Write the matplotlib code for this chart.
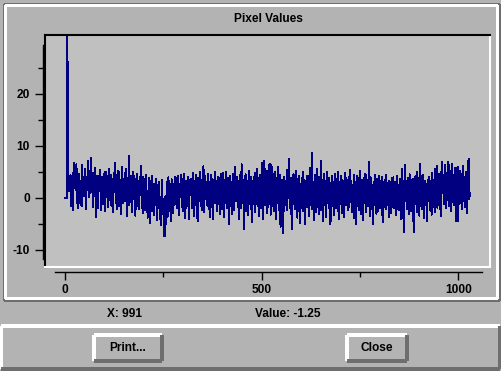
#
# p i x e l _ v a l u e s . p y
#

import numpy as np
import matplotlib
matplotlib.use("Agg")
from matplotlib import pyplot as plot
from matplotlib.lines import Line2D
from matplotlib.patches import Rectangle

# texts and ticks
title = "Pixel Values"
cursorX = "X: 991"
cursorValue = "Value: -1.25"
buttonNames = ["Print...", "Close"]
xMajor = [0, 500, 1000]
xMinor = [250, 750]
yMajor = [-10, 0, 10, 20]
yMinor = [-5, 5, 15, 25]

# pixel values (40 per row)
pixelValues = [
  0, 0, 0, 0, 0, 0, 40, 2.6, 3.1, 2.2, 1.4, 3.6, 2.5, 2.0, 4.4, 1.8, -1.5, 2.4, 3.0, 1.1,
  -2.3, 2.3, 6.7, 2.8, 1.9, 2.4, 5.1, 2.0, 1.5, 6.5, 2.9, 2.2, -2.0, 1.8, 2.6, 4.7, 2.1, -0.9, 2.5, 3.2,
  1.9, 2.7, -1.6, 2.3, 6.4, 2.0, 1.6, 2.9, 0.4, 2.5, 3.1, 5.6, 2.2, -2.1, 1.8, 2.6, 4.1, 2.0, 7.1, 1.5,
  2.4, 3.0, 0.2, 2.1, 5.3, 1.7, 7.8, 2.3, 2.8, 1.2, 4.8, 2.0, -1.8, 2.5, 1.9, 3.4, 0.3, 5.7, 1.6, -3.6,
  2.2, 1.7, 4.3, 2.5, -1.9, 1.8, 2.9, 1.4, 5.4, 2.0, 2.6, -2.4, 1.9, 2.3, 4.0, 1.5, -1.1, 2.4, 2.0, 4.6,
  1.6, -2.5, 2.2, 5.1, 1.8, 2.5, 0.2, 4.2, 1.9, 2.7, -1.7, 2.1, 5.5, 1.4, 2.3, 1.8, -1.4, 2.6, 4.4, 1.5,
  2.1, -2.8, 1.7, 2.4, 4.9, 1.3, 2.0, 6.7, 1.1, 1.8, -0.9, 4.5, 1.6, -2.2, 2.0, 1.4, 5.2, 1.7, -1.6, 2.2,
  1.5, 3.4, -3.0, 1.3, 1.9, 6.0, 1.2, 2.1, -1.0, 1.6, 3.7, 1.0, 4.8, -0.5, 1.8, 1.1, 5.6, 1.4, -3.5, 2.0,
  1.3, 3.9, -1.3, 8.0, 1.5, 1.0, -0.8, 4.3, 1.2, 1.7, -2.7, 1.4, 3.5, 0.9, 5.0, 1.5, -0.3, 1.1, 3.1, -3.4,
  1.3, 0.8, 4.6, 1.0, -1.5, 1.6, 3.3, 0.7, -2.2, 1.2, 4.0, 0.9, 1.4, 6.2, 0.6, 1.1, -1.9, 1.5, 4.1, -2.9,
  0.8, 0.3, 3.6, 0.6, -2.4, 0.9, 4.5, 0.2, -1.1, 0.7, -3.8, 1.0, 0.4, 3.9, 0.6, -1.7, 0.5, -4.9, 0.8, 3.2,
  0.1, 0.6, 4.2, -2.6, 0.4, 0.9, 2.8, -3.3, 0.3, 0.7, -1.4, 3.7, 0.2, 0.5, -4.2, 0.8, 2.5, -2.0, 0.3, 3.0,
  -0.3, -1.8, 0.2, -5.2, -0.6, -0.1, -3.1, 3.5, -0.7, -2.4, -0.2, -6.3, -0.5, -7.4, 0.3, -0.8, -1.5, -5.0, -0.4, 3.1,
  -0.6, -3.6, 0.1, 4.0, -0.3, -2.5, -0.7, 2.2, 0.0, -4.4, -0.5, 3.6, 0.2, -0.2, -2.9, 0.4, 2.7, -1.3, 0.3, 4.1,
  1.0, -1.2, 1.4, 3.8, 0.7, -2.0, 1.1, 4.3, 0.8, 1.5, -3.2, 1.2, 0.6, 2.8, 1.0, 4.4, 0.5, -1.8, 1.3, 0.9,
  3.6, -2.6, 1.1, 4.6, 0.7, 1.4, -3.9, 0.9, 3.3, 1.2, 0.5, -1.5, 4.0, 1.0, 0.8, -4.0, 1.3, 3.5, 0.6, 1.1,
  0.9, 3.7, 1.2, -1.9, 0.8, 1.4, 4.8, 0.6, -3.4, 1.1, 3.2, 0.9, 1.3, -1.3, 4.5, 0.7, 1.0, -4.5, 1.2, 3.9,
  0.8, -0.5, 1.4, 5.0, 0.6, -1.6, 1.1, 3.4, 0.9, -2.3, 1.2, 0.7, 6.1, 1.0, -2.8, 0.8, 4.2, 1.3, 0.5, 3.1,
  -1.4, 1.0, 0.6, 4.7, 1.2, -2.1, 0.9, 3.0, 1.1, -3.7, 0.8, 4.4, 1.3, 0.7, -1.7, 3.6, 1.0, -4.0, 0.9, 2.8,
  1.2, 5.0, 0.6, -0.9, 1.1, 3.3, -2.5, 0.8, 1.4, 4.1, 0.7, -1.2, 1.0, 3.8, -3.0, 1.2, 0.9, 4.6, 0.6, -2.2,
  1.1, 4.9, 0.8, -1.0, 1.2, -3.6, 3.4, 0.9, 1.3, 5.1, 0.7, -2.0, 1.0, 2.7, 1.2, 3.9, 0.6, -5.0, 1.1, 4.3,
  0.9, -1.5, 1.3, 3.1, 0.7, -3.1, 1.0, 4.7, 1.2, 0.8, -2.4, 3.6, 1.1, 6.0, 0.7, -0.6, 1.0, 4.0, 1.2, -1.8,
  0.9, 3.2, 1.1, -4.1, 0.8, 4.4, 1.2, -1.9, 0.7, 6.5, 1.0, -0.9, 1.3, 3.5, 0.8, -6.0, 1.1, 2.8, 0.9, 4.6,
  1.2, -2.6, 0.7, 3.0, 1.0, -3.3, 0.8, 5.2, 1.2, -1.1, 0.9, 3.7, 1.1, -2.1, 4.1, 0.8, -4.6, 1.0, 3.3, 1.2,
  -1.2, 1.0, 4.8, 0.9, -2.7, 1.2, 3.0, 0.8, 5.6, 1.1, -1.6, 0.9, 3.8, -3.5, 1.2, 2.9, 0.7, 4.5, 1.0, -2.0,
  1.3, 6.8, 0.8, -4.0, 1.1, 3.4, 0.9, 7.2, 1.2, -1.4, 0.8, 4.2, 1.0, -2.9, 5.3, 1.1, 0.7, -1.8, 3.6, 1.0,
  6.6, 1.2, 0.8, -3.2, 1.1, 6.3, 0.9, -1.5, 1.3, 4.7, 0.7, -2.6, 1.0, 3.2, 1.2, 5.0, 0.8, -4.1, 1.1, 3.7,
  0.9, -1.0, 6.0, 1.2, -2.3, 0.8, 4.4, 1.0, -5.5, 1.1, 2.9, 0.9, 3.5, -1.7, 1.2, -6.8, 0.8, 4.0, 1.0, 2.5,
  -1.3, 1.1, 3.3, 0.9, 5.4, -2.4, 1.2, 0.8, 4.1, 1.0, 7.6, -1.9, 1.1, 0.9, 3.9, -3.0, 1.2, -6.0, 0.8, 2.8,
  1.1, 4.6, -1.1, 0.9, 3.1, -2.2, 1.2, 5.2, 0.8, -0.7, 1.0, -3.8, 3.6, 1.1, -1.6, 4.3, 0.9, -4.8, 1.2, 2.7,
  1.0, -0.4, 3.8, 0.9, -2.5, 5.0, 1.1, 0.8, -1.2, 3.4, 1.0, -5.0, 1.2, 2.9, 0.9, 4.2, -1.8, 1.1, 3.7, 0.8,
  -3.4, 1.0, 5.8, 1.2, -0.9, 2.8, 0.9, -2.1, 8.6, 1.1, 0.8, -1.4, 3.1, 1.0, -4.2, 4.5, 1.2, 0.9, -2.8, 3.3,
  1.0, 5.5, 0.8, -1.7, 1.2, -3.1, 4.0, 1.0, 0.9, -0.8, 7.1, 1.1, -2.4, 3.5, 0.8, 1.2, -4.5, 2.9, 1.0, 4.7,
  0.9, -1.3, 3.2, 1.1, -3.7, 0.8, 5.1, 1.0, -0.9, 2.8, 1.2, -2.0, 3.9, 0.9, 1.1, -5.0, 2.4, 1.0, 4.3, -1.5,
  0.6, 3.0, 0.4, -0.6, 0.7, -3.3, 4.6, 0.5, 0.3, -1.9, 3.6, 0.6, 2.7, -2.6, 0.4, 5.0, 0.7, -4.0, 0.5, 3.1,
  0.3, -1.1, 4.2, 0.6, -2.9, 0.4, 3.4, 0.7, -0.8, 0.5, -3.6, 2.8, 0.3, 4.9, 0.6, -1.4, 0.4, 2.3, 0.7, -2.3,
  0.8, 4.1, 0.5, -1.8, 0.9, 5.4, 0.6, -0.5, 3.3, 0.7, -2.7, 0.9, 2.0, 0.5, 4.5, 0.8, -3.9, 0.6, 3.0, 0.9,
  -5.0, 0.7, 4.3, 0.5, -1.6, 0.8, 3.8, 0.6, -2.4, 0.9, 5.2, 0.7, -3.1, 0.5, 3.5, 0.8, -0.7, 0.6, -4.3, 2.1,
  1.0, 3.9, 0.7, -1.0, 4.7, 0.9, -2.8, 1.1, 2.9, 0.8, 3.4, -1.5, 1.0, 6.9, 0.7, -3.5, 1.1, 4.0, 0.9, -2.1,
  1.2, 2.6, 0.8, -5.0, 1.0, 3.1, 0.7, -1.3, 4.4, 0.9, -0.6, 1.1, -3.0, 3.6, 0.8, -2.5, 1.0, 2.8, 0.9, 4.2,
  -1.9, 0.8, 3.2, 1.0, -0.5, 0.7, -3.2, 4.1, 0.9, -4.7, 1.1, 2.2, 0.8, 3.5, 1.0, -2.2, 0.7, 4.4, 0.9, -1.1,
  1.2, 2.9, 0.8, -3.6, 1.0, 3.3, 0.7, -1.6, 2.5, 0.9, -2.9, 3.8, 1.1, 0.6, -0.7, 4.0, 0.8, -2.0, 2.7, 1.0,
  3.0, 0.8, -3.3, 1.0, 4.3, 0.7, -0.9, 1.1, -2.4, 2.6, 0.9, -1.5, 3.7, 1.0, 0.6, -4.1, 1.2, 5.5, 0.8, -0.4,
  1.0, -6.5, 3.2, 0.9, 6.4, 1.1, -0.6, 0.8, 2.8, -2.2, 1.0, 3.9, 0.7, -1.2, 1.1, -3.0, 4.6, 0.9, -1.9, 3.4,
  1.0, -2.6, 2.9, 0.9, -4.4, 3.6, 1.1, -6.5, 1.0, 0.8, -1.0, 4.2, 1.2, 2.6, -2.8, 1.0, 5.0, 0.9, -0.5, 3.1,
  1.1, -3.4, 6.5, 1.0, -1.6, 3.8, 1.2, 0.9, -2.1, 4.5, 1.0, -0.8, 2.7, -3.8, 1.1, 3.3, 0.9, -1.4, 2.4, 1.2,
  -4.5, 1.5, 3.5, 1.3, -0.6, 1.7, 4.0, 1.4, -2.3, 1.6, 3.2, 1.2, -3.2, 1.8, 4.8, 1.5, -1.7, 1.3, 3.0, 1.6,
  -2.7, 5.6, 1.4, 1.8, -0.5, 6.2, 1.5, -1.9, 1.3, 3.3, 1.7, 4.6, 1.4, -0.9, 1.6, -3.5, 5.1, 1.5, 7.0, 1.8,
  1.8, 4.4, 2.1, -1.2, 3.1, 1.9, 6.3, 2.2, -2.0, 1.7, 4.9, 2.0, 3.6, -0.4, 2.3, 7.0, 1.8, -1.6, 5.2, 2.1,
  1.9, 3.8, -2.5, 2.2, 6.6, 1.8, -0.7, 2.0, 4.5, 2.3, -1.4, 1.9, 5.8, 2.1, -4.4, 2.0, 3.4, 1.8, 6.0, 2.2,
  -4.5, 1.9, 3.9, 2.1, 5.3, 1.8, -1.0, 2.2, 4.6, 1.9, -2.2, 2.0, 6.2, 1.8, -0.6, 2.3, 4.0, 1.9, -1.8, 2.1,
  5.0, 1.8, -2.9, 2.0, 3.7, 2.2, 7.5, 1.6, -0.3, 1.0, 0.8,
]

# window geometry in pixels
W, H = 502, 371
winColor = "#b3b3b3"
plotColor = "#c0c0c0"
lineColor = "#000080"
darkColor = "#6e6e6e"


def Fx(x):
  return x / W


def Fy(y):
  return 1 - y / H


def XData(px):
  # 0 sits at pixel 65, 1000 at pixel 458.3
  return (px - 65) / 0.3933


def YData(py):
  # 0 sits at pixel 198, 10 units per 52 pixels
  return (198 - py) / 5.2


def Seg(x0, y0, x1, y1, color, lw=1.0):
  fig.add_artist(Line2D([Fx(x0), Fx(x1)], [Fy(y0), Fy(y1)], transform=fig.transFigure,
                        color=color, lw=lw, solid_capstyle="butt", antialiased=False))


def Bevel(x0, y0, x1, y1, light, dark, lw=1.0):
  Seg(x0, y0, x1, y0, light, lw)
  Seg(x0, y0, x0, y1, light, lw)
  Seg(x0, y1, x1, y1, dark, lw)
  Seg(x1, y0, x1, y1, dark, lw)


###############################
if __name__ == "__main__":
  plot.rcParams["font.family"] = ["Liberation Sans", "DejaVu Sans"]
  plot.rcParams["font.weight"] = "bold"
  plot.rcParams["axes.unicode_minus"] = False

  fig = plot.figure(figsize=(W / 100, H / 100), dpi=100, facecolor=winColor)

  # window frames
  Bevel(4, 4, 499, 300, darkColor, darkColor)
  Bevel(5, 5, 497, 298, "white", "white")
  Bevel(1, 326, 500, 369, "white", darkColor, 1.5)

  # plot area
  ax = fig.add_axes([Fx(45), Fy(267), Fx(490) - Fx(45), Fy(35) - Fy(267)])
  ax.set_facecolor(plotColor)
  ax.plot(np.arange(len(pixelValues)), pixelValues, color=lineColor, lw=0.72, antialiased=False)
  ax.set_xlim(XData(45), XData(490))
  ax.set_ylim(YData(267), YData(35))
  ax.set_xticks([])
  ax.set_yticks([])
  for side, color in (("top", "black"), ("left", "black"), ("bottom", "white"), ("right", "white")):
    ax.spines[side].set_color(color)
    ax.spines[side].set_linewidth(1.5)

  # y axis, drawn apart from the plot area
  yax = fig.add_axes([Fx(43), Fy(259), 0.001, Fy(45) - Fy(259)])
  yax.patch.set_visible(False)
  for side in ("top", "right", "bottom"):
    yax.spines[side].set_visible(False)
  yax.spines["left"].set_linewidth(1.0)
  yax.set_ylim(YData(259), YData(45))
  yax.set_yticks(yMajor)
  yax.set_yticks(yMinor, minor=True)
  yax.set_xticks([])
  yax.tick_params(axis="y", which="major", length=5.8, width=1.0, pad=3.5, labelsize=8.6)
  yax.tick_params(axis="y", which="minor", length=3.6, width=1.0)

  # x axis
  xax = fig.add_axes([Fx(55), Fy(272), Fx(482) - Fx(55), 0.001])
  xax.patch.set_visible(False)
  for side in ("top", "right", "left"):
    xax.spines[side].set_visible(False)
  xax.spines["bottom"].set_linewidth(1.0)
  xax.set_xlim(XData(55), XData(482))
  xax.set_xticks(xMajor)
  xax.set_xticks(xMinor, minor=True)
  xax.set_yticks([])
  xax.tick_params(axis="x", which="major", length=5.8, width=1.0, pad=2.5, labelsize=8.6)
  xax.tick_params(axis="x", which="minor", length=3.6, width=1.0)

  # texts
  fig.text(Fx(268), Fy(19), title, ha="center", va="center", fontsize=8.6)
  fig.text(Fx(125), Fy(314), cursorX, ha="center", va="center", fontsize=8.6)
  fig.text(Fx(288), Fy(314), cursorValue, ha="center", va="center", fontsize=8.6)

  # buttons
  for name, (x0, x1) in zip(buttonNames, ((94, 162), (347, 407))):
    fig.add_artist(Rectangle((Fx(x0), Fy(361)), Fx(x1) - Fx(x0), Fy(335) - Fy(361),
                             transform=fig.transFigure, facecolor=winColor, edgecolor="none"))
    Bevel(x0, 335, x1, 361, "white", darkColor, 1.5)
    fig.text(Fx((x0 + x1) / 2), Fy(348), name, ha="center", va="center", fontsize=8.6)

  plot.savefig("out.png", dpi=100, facecolor=winColor)
